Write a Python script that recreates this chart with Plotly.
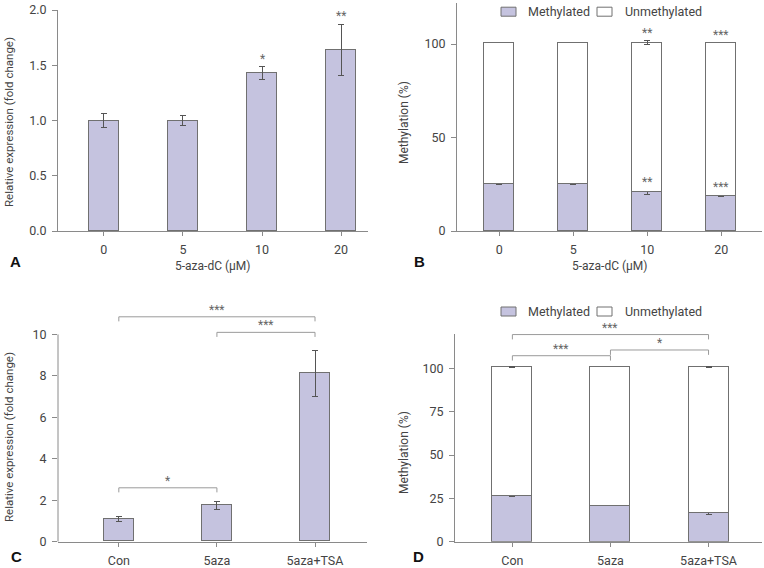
import numpy as np
import plotly.graph_objects as go

# ---------------- data ----------------
conc = ["0", "5", "10", "20"]
expr_a = [1.0, 1.0, 1.43, 1.64]
err_a = [0.065, 0.045, 0.055, 0.23]
stars_a = ["", "", "*", "**"]

meth_b = [25.2, 25.2, 20.8, 18.6]
meth_b_err = [0.4, 0.4, 1.1, 0.4]
unmeth_b = [75.5, 75.5, 79.9, 82.1]
unmeth_b_err = [None, None, 1.1, None]
stars_b = ["", "", "**", "***"]

groups = ["Con", "5aza", "5aza+TSA"]
expr_c = [1.08, 1.75, 8.1]
err_c = [0.12, 0.2, 1.1]
brackets_c = [(0, 2, 10.85, "***"), (1, 2, 10.1, "***"), (0, 1, 2.6, "*")]

meth_d = [26.3, 20.5, 16.6]
meth_d_err = [0.4, None, 0.8]
unmeth_d = [74.4, 80.2, 84.1]
unmeth_d_err = [0.4, None, 0.4]
brackets_d = [(0, 2, 119.5, "***"), (0, 1, 107.3, "***"), (1, 2, 110.6, "*")]

legend_names = ["Methylated", "Unmethylated"]

# ---------------- style ----------------
FONT = "Roboto, Liberation Sans, sans-serif"
BAR = "#c5c3df"
EDGE = "#707070"
AX = "#8a8a8a"
TXT = "#444444"
STAR = "#666666"
W, H = 764, 568

fig = go.Figure()

def err(vals, color="#555555"):
    return dict(type="data", array=np.array(vals, dtype=float), visible=True, color=color, thickness=1, width=3)

# A
fig.add_trace(go.Bar(x=conc, y=expr_a, width=0.38, marker=dict(color=BAR, line=dict(color=EDGE, width=1)),
                     error_y=err(err_a), xaxis="x", yaxis="y"))
# B
fig.add_trace(go.Bar(x=conc, y=meth_b, width=0.405, name=legend_names[0],
                     marker=dict(color=BAR, line=dict(color=EDGE, width=1)),
                     error_y=err(meth_b_err), xaxis="x2", yaxis="y2"))
fig.add_trace(go.Bar(x=conc, y=unmeth_b, width=0.405, name=legend_names[1],
                     marker=dict(color="white", line=dict(color=EDGE, width=1)),
                     error_y=err(unmeth_b_err), xaxis="x2", yaxis="y2"))
# C
fig.add_trace(go.Bar(x=groups, y=expr_c, width=0.306, marker=dict(color=BAR, line=dict(color=EDGE, width=1)),
                     error_y=err(err_c), xaxis="x3", yaxis="y3"))
# D
fig.add_trace(go.Bar(x=groups, y=meth_d, width=0.408, name=legend_names[0],
                     marker=dict(color=BAR, line=dict(color=EDGE, width=1)),
                     error_y=err(meth_d_err), xaxis="x4", yaxis="y4"))
fig.add_trace(go.Bar(x=groups, y=unmeth_d, width=0.408, name=legend_names[1],
                     marker=dict(color="white", line=dict(color=EDGE, width=1)),
                     error_y=err(unmeth_d_err), xaxis="x4", yaxis="y4"))

# brackets
def add_brackets(brs, cats, xa, ya, drop):
    for i, j, h, s in brs:
        fig.add_trace(go.Scatter(x=[cats[i], cats[i], cats[j], cats[j]], y=[h - drop, h, h, h - drop],
                                 mode="lines", line=dict(color="#9a9a9a", width=1),
                                 xaxis=xa, yaxis=ya, hoverinfo="skip"))

add_brackets(brackets_c, groups, "x3", "y3", 0.22)
add_brackets(brackets_d, groups, "x4", "y4", 2.8)

ann = []
def star(x, y, s, xr, yr, shift=-1):
    if s:
        ann.append(dict(x=x, y=y, text=s, xref=xr, yref=yr, showarrow=False, yanchor="bottom",
                        yshift=shift, font=dict(family=FONT, size=12, color=STAR)))

for i, (v, e, s) in enumerate(zip(expr_a, err_a, stars_a)):
    star(i, v + e, s, "x", "y")
for i, (m, me, u, ue, s) in enumerate(zip(meth_b, meth_b_err, unmeth_b, unmeth_b_err, stars_b)):
    star(i, m + (me or 0), s, "x2", "y2")
    star(i, m + u + (ue or 0), s, "x2", "y2")
for i, j, h, s in brackets_c:
    star((i + j) / 2, h, s, "x3", "y3", -2)
for i, j, h, s in brackets_d:
    star((i + j) / 2, h, s, "x4", "y4", -2)

def pa(text, px, py, size=12, angle=0, bold=False, color=TXT, xanchor="center"):
    ann.append(dict(x=px / W, y=1 - py / H, xref="paper", yref="paper", text=("<b>%s</b>" % text) if bold else text,
                    showarrow=False, textangle=angle, xanchor=xanchor, yanchor="middle",
                    font=dict(family=("Liberation Sans, Arial, sans-serif" if bold else FONT), size=size, color=color)))

pa("5-aza-dC (μM)", 213, 266)
pa("5-aza-dC (μM)", 610, 266)
pa("Relative expression (fold change)", 9, 122, size=11.5, angle=-90)
pa("Relative expression (fold change)", 9, 437, size=11.5, angle=-90)
pa("Methylation (%)", 404, 122, size=12, angle=-90)
pa("Methylation (%)", 404, 452, size=12, angle=-90)
pa("A", 15, 261, size=15, bold=True, color="#111111")
pa("B", 419, 262, size=15, bold=True, color="#111111")
pa("C", 16, 556, size=15, bold=True, color="#111111")
pa("D", 418, 556, size=15, bold=True, color="#111111")

# manual legends (boxes + labels)
shapes = [dict(type="line", xref="x3 domain", yref="y3", x0=0, x1=0, y0=0, y1=10, line=dict(color=AX, width=1))]
for cy in (11.7, 311.5):
    for k, (bx, tx, fill) in enumerate([(501, 526, BAR), (597, 622.5, "white")]):
        shapes.append(dict(type="rect", xref="paper", yref="paper", x0=bx / W, x1=(bx + 15) / W,
                           y0=1 - (cy + 4.5) / H, y1=1 - (cy - 4.5) / H, fillcolor=fill,
                           line=dict(color=EDGE, width=1)))
        pa(legend_names[k], tx, cy, size=12.5, xanchor="left")

xcommon = dict(type="category", showline=True, linecolor=AX, linewidth=1, ticks="outside", ticklen=4,
               tickcolor=AX, tickfont=dict(family=FONT, size=12.5, color=TXT), showgrid=False, zeroline=False,
               ticklabelstandoff=3, automargin=False)
ycommon = dict(showline=True, linecolor=AX, linewidth=1, ticks="outside", ticklen=5, tickcolor=AX,
               tickfont=dict(family=FONT, size=12.5, color=TXT), showgrid=False, zeroline=False,
               ticklabelstandoff=3, automargin=False)

fig.update_layout(
    width=W, height=H, autosize=False,
    margin=dict(l=0, r=0, t=0, b=0, pad=0, autoexpand=False),
    paper_bgcolor="white", plot_bgcolor="white",
    barmode="stack", bargap=0, showlegend=False,
    xaxis=dict(xcommon, domain=[58 / W, 368 / W], range=[-0.58, 3.34], anchor="y"),
    yaxis=dict(ycommon, domain=[1 - 231 / H, 1 - 10 / H], range=[0, 2.0], tickvals=[0, 0.5, 1, 1.5, 2],
               tickformat=".1f", anchor="x"),
    xaxis2=dict(xcommon, domain=[457 / W, 762 / W], range=[-0.57, 3.55], anchor="y2"),
    yaxis2=dict(ycommon, domain=[1 - 231 / H, 1 - 2.9 / H], range=[0, 122], tickvals=[0, 50, 100], anchor="x2"),
    xaxis3=dict(xcommon, domain=[58 / W, 367 / W], range=[-0.62, 2.53], anchor="y3"),
    yaxis3=dict(ycommon, domain=[1 - 541.7 / H, 1 - 305.4 / H], range=[0, 11.4], showline=False,
                tickvals=[0, 2, 4, 6, 8, 10], anchor="x3"),
    xaxis4=dict(xcommon, domain=[455 / W, 762 / W], range=[-0.585, 2.545], anchor="y4"),
    yaxis4=dict(ycommon, domain=[1 - 541.7 / H, 1 - 333.7 / H], range=[0, 120],
                tickvals=[0, 25, 50, 75, 100], anchor="x4"),
    annotations=ann,
    shapes=shapes,
)

fig.write_html("out.html", config={"displayModeBar": False, "responsive": False},
               post_script="document.body.style.margin='0';document.body.style.overflow='hidden';")
